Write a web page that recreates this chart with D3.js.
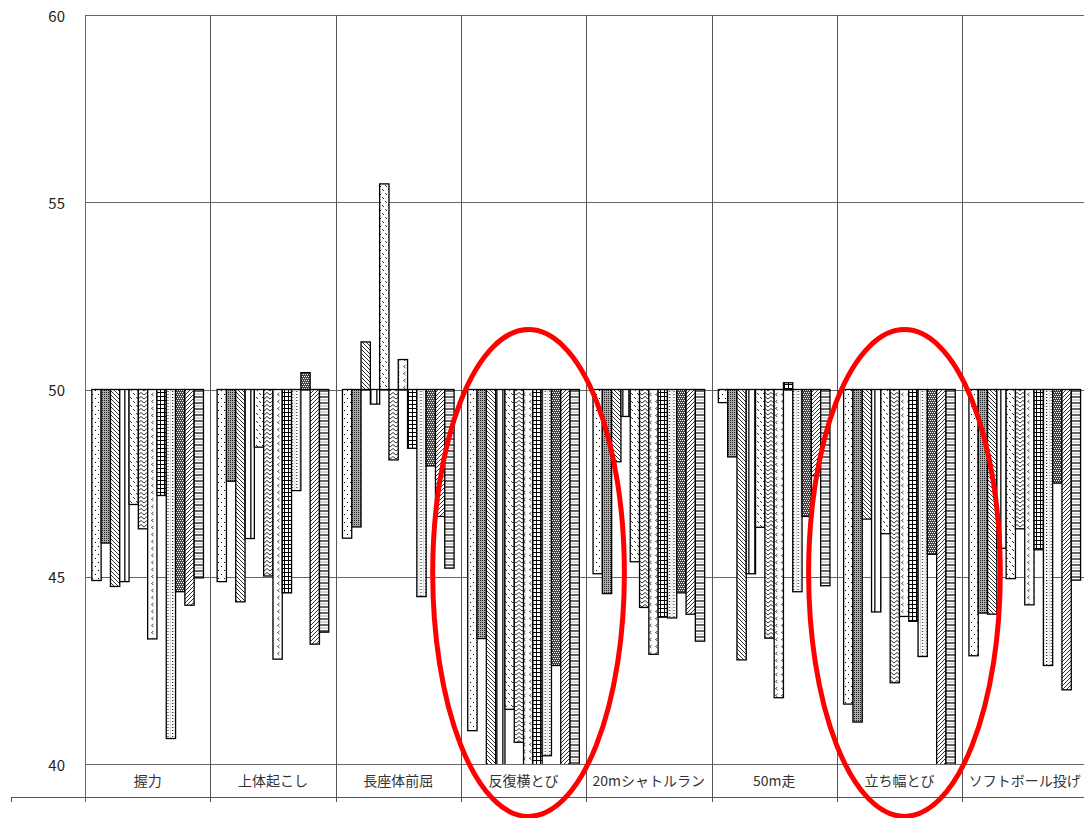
<!DOCTYPE html>
<html>
<head>
<meta charset="utf-8">
<script src="https://cdn.jsdelivr.net/npm/d3@7"></script>
<style>
  body { margin: 0; background: #fff; }
  svg { display: block; font-family: "Noto Sans CJK JP", "Noto Sans", sans-serif; }
</style>
</head>
<body>
<svg id="chart"></svg>
<script>
// categories (x axis) and y ticks
const categories = ["握力", "上体起こし", "長座体前屈", "反復横とび", "20mシャトルラン", "50m走", "立ち幅とび", "ソフトボール投げ"];
const yTicks = [40, 45, 50, 55, 60];

// one array per series, one value per category (T-score like, baseline 50)
const series01 = [44.9, 44.87, 46.03, 40.89, 45.08, 49.65, 41.6, 42.89];
const series02 = [45.9, 47.55, 46.33, 43.35, 44.55, 48.2, 41.12, 44.03];
const series03 = [44.74, 44.33, 51.27, 39.6, 48.07, 42.78, 46.54, 44.0];
const series04 = [44.87, 46.02, 49.61, 39.7, 49.28, 45.08, 44.06, 45.76];
const series05 = [46.93, 48.46, 55.49, 41.46, 45.4, 46.32, 46.15, 44.95];
const series06 = [46.28, 45.02, 48.12, 40.58, 44.18, 43.36, 42.17, 46.28];
const series07 = [43.34, 42.8, 50.8, 39.8, 42.93, 41.77, 43.94, 44.25];
const series08 = [47.17, 44.57, 48.43, 39.5, 43.92, 50.18, 43.81, 45.72];
const series09 = [40.68, 47.3, 44.47, 40.22, 43.9, 44.6, 42.87, 42.63];
const series10 = [44.6, 50.45, 47.96, 42.63, 44.57, 46.61, 45.6, 47.5];
const series11 = [44.24, 43.2, 46.61, 39.7, 44.0, 47.7, 39.8, 41.98];
const series12 = [44.97, 43.52, 45.23, 39.6, 43.28, 44.76, 39.9, 44.91];

// highlighted categories (red ellipses) and the value span they cover
const highlighted = ["反復横とび", "立ち幅とび"];
const ellipseSpan = [38.6, 51.6];

const allSeries = [series01, series02, series03, series04, series05, series06,
                   series07, series08, series09, series10, series11, series12];

const W = 1084, H = 818;
const margin = { left: 85, top: 15, right: -3.4, bottom: 54 };
const baseline = 50;

const svg = d3.select("#chart").attr("width", W).attr("height", H);
const defs = svg.append("defs");

// fill patterns, like the old excel monochrome fills
function pat(id, w, h, bg, draw) {
  const p = defs.append("pattern").attr("id", id)
    .attr("patternUnits", "userSpaceOnUse").attr("width", w).attr("height", h);
  p.append("rect").attr("width", w).attr("height", h).attr("fill", bg);
  draw(p);
}
pat("p0", 6, 8, "#fff", p => {
  p.append("rect").attr("x", 2).attr("y", 2).attr("width", 1).attr("height", 1).attr("fill", "#000");
  p.append("rect").attr("x", 5).attr("y", 6).attr("width", 1).attr("height", 1).attr("fill", "#000");
});
pat("p1", 2, 2, "#aaa", p => {
  p.append("rect").attr("width", 1).attr("height", 1).attr("fill", "#222");
});
pat("p2", 4, 4, "#fff", p => {
  p.append("path").attr("d", "M0,0L4,4M-1,3L1,5M3,-1L5,1").attr("stroke", "#000").attr("stroke-width", 0.8);
});
pat("p3", 6, 4, "#fff", p => {
  p.append("rect").attr("x", 4).attr("width", 1.6).attr("height", 4).attr("fill", "#333");
});
pat("p4", 6, 8, "#fff", p => {
  p.append("path").attr("d", "M1,1L3,3M4,5L6,7").attr("stroke", "#000").attr("stroke-width", 0.8);
});
pat("p5", 6, 4, "#fff", p => {
  p.append("path").attr("d", "M0,3L3,0.5L6,3").attr("stroke", "#000").attr("stroke-width", 0.8).attr("fill", "none");
});
pat("p6", 6, 7, "#fff", p => {
  p.append("path").attr("d", "M3.5,1L1.5,2.5L3.5,4").attr("stroke", "#000").attr("stroke-width", 0.7).attr("fill", "none");
});
pat("p7", 4, 4, "#fff", p => {
  p.append("path").attr("d", "M0,0.5H4M0.5,0V4").attr("stroke", "#000").attr("stroke-width", 1);
});
pat("p8", 4.6, 3, "#fff", p => {
  p.append("rect").attr("x", 2).attr("y", 1).attr("width", 1).attr("height", 1).attr("fill", "#000");
  p.append("rect").attr("x", 0).attr("y", 0).attr("width", 0.6).attr("height", 3).attr("fill", "#bbb");
});
pat("p9", 4, 4, "#444", p => {
  [[0, 0], [2, 0], [1, 2], [3, 2]].forEach(([x, y]) =>
    p.append("rect").attr("x", x).attr("y", y).attr("width", 1).attr("height", 1).attr("fill", "#fff"));
});
pat("p10", 4, 4, "#fff", p => {
  p.append("path").attr("d", "M0,4L4,0M-1,1L1,-1M3,5L5,3").attr("stroke", "#000").attr("stroke-width", 0.8);
});
pat("p11", 4, 6, "#fff", p => {
  p.append("path").attr("d", "M0,1H4").attr("stroke", "#000").attr("stroke-width", 1.2);
  p.append("path").attr("d", "M0,4H4").attr("stroke", "#999").attr("stroke-width", 0.8);
});

const x0 = d3.scaleBand().domain(categories)
  .range([margin.left, W - margin.right]).padding(0);
const x1 = d3.scaleBand().domain(d3.range(allSeries.length))
  .range([0, x0.bandwidth()]).paddingInner(0).paddingOuter(0.735);
const y = d3.scaleLinear().domain([40, 60]).range([H - margin.bottom - 0, margin.top]);
const plotBottom = y(40);

// clip so bars below 40 stop at the axis
defs.append("clipPath").attr("id", "plotClip").append("rect")
  .attr("x", margin.left).attr("y", margin.top)
  .attr("width", W - margin.left).attr("height", plotBottom - margin.top);

// horizontal gridlines
svg.append("g").selectAll("line").data(yTicks).join("line")
  .attr("x1", margin.left).attr("x2", W)
  .attr("y1", d => Math.round(y(d)) + 0.5).attr("y2", d => Math.round(y(d)) + 0.5)
  .attr("stroke", "#666").attr("stroke-width", 1);

// y labels
svg.append("g").selectAll("text").data(yTicks).join("text")
  .attr("x", 65).attr("y", d => y(d))
  .attr("text-anchor", "end").attr("dominant-baseline", "central")
  .attr("font-size", 15).attr("fill", "#222")
  .text(d => d);

// vertical category separators
const bounds = categories.map(c => x0(c)).concat([x0.range()[1]]);
svg.append("g").selectAll("line").data(bounds).join("line")
  .attr("x1", d => Math.round(d) + 0.5).attr("x2", d => Math.round(d) + 0.5)
  .attr("y1", margin.top).attr("y2", 802)
  .attr("stroke", d => d === bounds[0] ? "#666" : "#555").attr("stroke-width", 1);

// bottom line with left tick
svg.append("line").attr("x1", 11).attr("x2", W).attr("y1", 797.5).attr("y2", 797.5)
  .attr("stroke", "#555");
svg.append("line").attr("x1", 11.5).attr("x2", 11.5).attr("y1", 797).attr("y2", 802)
  .attr("stroke", "#555");

// category labels
svg.append("g").selectAll("text").data(categories).join("text")
  .attr("x", d => x0(d) + x0.bandwidth() / 2).attr("y", 780)
  .attr("text-anchor", "middle").attr("dominant-baseline", "central")
  .attr("font-size", 14).attr("fill", "#333")
  .text(d => d);

// bars
const barData = [];
categories.forEach((c, ci) => {
  allSeries.forEach((s, si) => barData.push({ cat: c, si, v: s[ci] }));
});
svg.append("g").attr("clip-path", "url(#plotClip)")
  .selectAll("rect").data(barData).join("rect")
  .attr("x", d => x0(d.cat) + x1(d.si))
  .attr("width", x1.bandwidth())
  .attr("y", d => y(Math.max(d.v, baseline)))
  .attr("height", d => Math.abs(y(d.v) - y(baseline)))
  .attr("fill", d => `url(#p${d.si})`)
  .attr("stroke", "#000").attr("stroke-width", 1.3);

// red ellipses around highlighted categories
svg.append("g").selectAll("ellipse").data(highlighted).join("ellipse")
  .attr("cx", d => x0(d) + x0.bandwidth() / 2 + 5)
  .attr("cy", (y(ellipseSpan[0]) + y(ellipseSpan[1])) / 2)
  .attr("rx", x0.bandwidth() * 0.765)
  .attr("ry", (y(ellipseSpan[0]) - y(ellipseSpan[1])) / 2)
  .attr("fill", "none").attr("stroke", "#f00").attr("stroke-width", 5);
</script>
</body>
</html>
